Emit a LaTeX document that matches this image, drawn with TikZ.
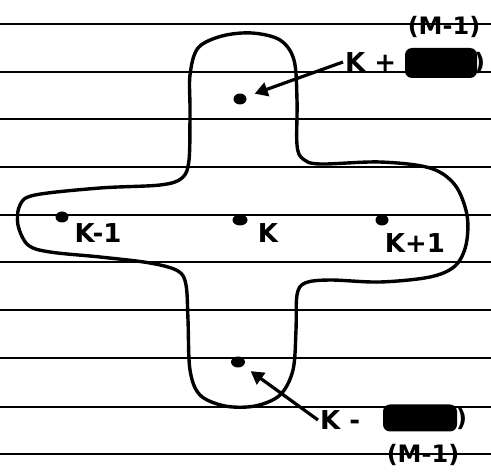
\documentclass[tikz,border=0pt]{standalone}
\usepackage{fontspec}
\setmainfont{DejaVu Sans}
\usetikzlibrary{arrows.meta,positioning,shapes.geometric}

\begin{document}
\begin{tikzpicture}[x=1pt, y=-1pt,
    rule/.style={line width=2.3pt},
    blob/.style={line width=3.4pt, line join=round},
    site/.style={ellipse, fill, inner sep=0pt, minimum width=13pt, minimum height=11pt},
    lbl/.style={font=\bfseries\fontsize{26}{26}\selectfont, inner sep=2pt},
    power/.style={font=\bfseries\fontsize{24}{24}\selectfont, inner sep=0pt},
    hidden/.style={fill, rounded corners=7pt, inner sep=0pt},
    pointer/.style={line width=3.2pt, -{Triangle[length=13pt, width=14pt]}, shorten >=9pt}
  ]
  \useasboundingbox (0,0) rectangle (491,476);

  % ruled paper
  \foreach \y in {24,72,119,167,215,262,310,358,407,454}
    \draw[rule] (0,\y) -- (491,\y);

  % cross shaped region
  \draw[blob] plot[smooth cycle, tension=0.55] coordinates {
    (190,75) (198,48) (222,36) (252,33) (280,40) (294,60) (297,100) (297,145)
    (303,159) (320,164) (380,162) (430,168) (455,185) (467,215) (466,245)
    (455,266) (430,277) (380,282) (330,280) (305,283) (297,295) (296,330)
    (293,370) (280,395) (255,406) (225,406) (200,395) (190,370) (188,320)
    (186,285) (178,271) (150,263) (100,257) (50,252) (28,245) (18,225)
    (20,205) (35,195) (100,188) (160,185) (182,178) (189,160) (190,110)};

  % sites
  \node[site] (up) at (240,99) {};
  \node[site] (left) at (62,217) {};
  \node[site, minimum width=15pt] (mid) at (240,220) {};
  \node[site] (right) at (382,220) {};
  \node[site, minimum width=14pt] (down) at (238,362) {};

  \node[lbl] (lleft) at (98,233) {K-1};
  \node[lbl] (lmid) at (268,233) {K};
  \node[lbl] (lright) at (415,243) {K+1};

  % upper neighbour
  \node[lbl, anchor=west] (lup) at (343,62) {K +};
  \node[hidden, minimum width=72pt, minimum height=30pt] (hup) at (441,63) {};
  \node[power, anchor=west] (cup) at (474,63) {)};
  \node[power] (mup) at (444,27) {(M-1)};

  % lower neighbour
  \node[lbl, anchor=west] (ldown) at (318,420) {K -};
  \node[hidden, minimum width=74pt, minimum height=27pt] (hdown) at (420,418) {};
  \node[power, anchor=west] (cdown) at (456,419) {)};
  \node[power] (mdown) at (423,455) {(M-1)};

  \draw[pointer] (lup.west) -- (up);
  \draw[pointer] (ldown.west) -- (down);
\end{tikzpicture}
\end{document}
